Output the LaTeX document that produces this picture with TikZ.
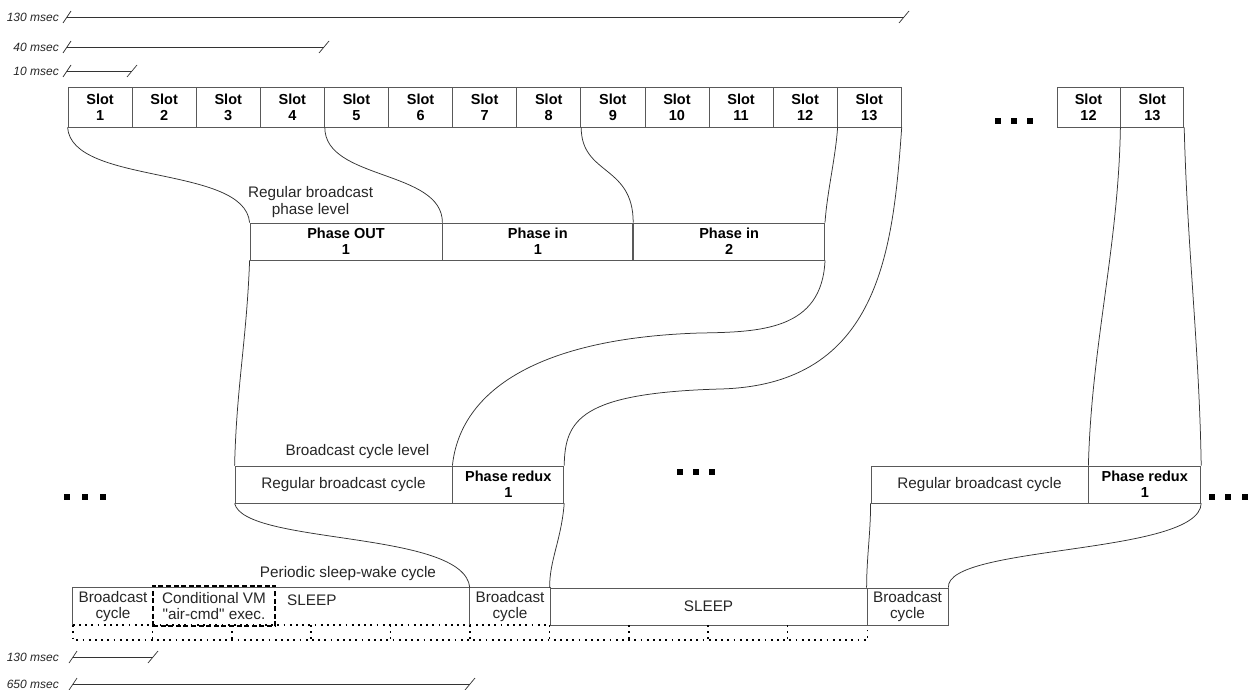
\documentclass[tikz,border=0pt]{standalone}
\usepackage{fontspec}
\setmainfont{Liberation Sans}
\usetikzlibrary{positioning}
\definecolor{edge}{gray}{0.35}

\begin{document}
\begin{tikzpicture}[x=1pt,y=1pt,
  every node/.style={font=\fontsize{15.3}{16.5}\selectfont, inner sep=0pt, align=center, text=black!85},
  slotbox/.style={draw=edge, line width=0.8pt, minimum width=64.1pt, minimum height=40pt, text=black, font=\bfseries\fontsize{14.5}{16}\selectfont},
  phasebox/.style={draw=edge, line width=0.8pt, minimum height=37pt, text=black, font=\bfseries\fontsize{14.5}{16}\selectfont},
  cyclebox/.style={draw=edge, line width=0.8pt, minimum height=37pt},
  plainbox/.style={minimum height=37pt},
  vmbox/.style={draw=black, line width=2.6pt, dash pattern=on 5pt off 2.6pt, minimum width=122pt, minimum height=40pt},
  link/.style={draw=black!80, line width=0.75pt},
  frame/.style={draw=edge, line width=0.8pt},
  scalebar/.style={draw=black!80, line width=0.7pt},
  mslabel/.style={font=\itshape\fontsize{12}{13}\selectfont, anchor=east},
  dotsq/.style={fill=black, minimum size=6.5pt},
  dotline/.style={draw=black, line width=1.7pt, dash pattern=on 1.7pt off 4.5pt},
]
\useasboundingbox (0,0) rectangle (1258,-690);

% scale bars
\foreach \y/\xe/\lab [count=\n] in {17/904/130, 47/324/40, 71/132/10} {
  \node[mslabel] (tm\n) at (59,-\y) {\lab\ msec};
  \draw[scalebar] ([xshift=8pt]tm\n.east) -- (\xe,-\y);
  \draw[scalebar] (63,-\y-6) -- (71,-\y+6);
  \draw[scalebar] (\xe-5,-\y-6) -- (\xe+5,-\y+6);
}
\foreach \y/\xe/\lab [count=\n] in {657/153/130, 684/470/650} {
  \node[mslabel] (bm\n) at (59,-\y) {\lab\ msec};
  \draw[scalebar] ([xshift=14pt]bm\n.east) -- (\xe,-\y);
  \draw[scalebar] (69,-\y-6) -- (77,-\y+6);
  \draw[scalebar] (\xe-5,-\y-6) -- (\xe+5,-\y+6);
}

% slot level
\foreach \i in {1,...,13}
  \node[slotbox] (s\i) at ({68+64.1*(\i-0.5)},-107) {Slot\\\i};
\node[slotbox, minimum width=63pt] (r12) at (1088.5,-107) {Slot\\12};
\node[slotbox, minimum width=63pt, right=0pt of r12] (r13) {Slot\\13};
\foreach \x [count=\n] in {998,1014,1030}
  \node[dotsq] (sd\n) at (\x,-121) {};

% phase level
\node[phasebox, minimum width=192pt] (po) at (346,-241.5) {Phase OUT\\1};
\node[phasebox, minimum width=190pt, right=0pt of po] (pi1) {Phase in\\1};
\node[phasebox, minimum width=191pt, right=0pt of pi1] (pi2) {Phase in\\2};
\node[anchor=south] (plev) at ([xshift=61pt,yshift=5pt]po.north west) {Regular broadcast\\phase level};

% broadcast cycle level
\node[cyclebox, minimum width=217pt] (rbc1) at (343.5,-484.5) {Regular broadcast cycle};
\node[phasebox, minimum width=111pt, right=0pt of rbc1] (pr1) {Phase redux\\1};
\node[anchor=south] (blev) at ([xshift=14pt,yshift=7pt]rbc1.north) {Broadcast cycle level};
\node[cyclebox, minimum width=217pt] (rbc2) at (979.5,-484.5) {Regular broadcast cycle};
\node[phasebox, minimum width=112pt, right=0pt of rbc2] (pr2) {Phase redux\\1};
\foreach \x [count=\n] in {67,85,103}
  \node[dotsq] (ld\n) at (\x,-497) {};
\foreach \x [count=\n] in {680,696,712}
  \node[dotsq] (md\n) at (\x,-472) {};
\foreach \x [count=\n] in {1212,1228,1245}
  \node[dotsq] (rd\n) at (\x,-497) {};

% sleep-wake level
\node[plainbox, minimum width=80pt] (bc1) at (113,-606.5) {Broadcast\\cycle};
\node[vmbox] (cvm) at (214,-606) {Conditional VM\\{\addfontfeature{Ligatures=TeXOff}"air-cmd" exec.}};
\node[anchor=west] (sl1) at (287,-600) {SLEEP};
\node[plainbox, minimum width=80pt] (bc2) at (510,-606.5) {Broadcast\\cycle};
\node[cyclebox, minimum width=317pt] (sl2) at (708.5,-606.5) {SLEEP};
\node[cyclebox, minimum width=81pt] (bc3) at (907.5,-606.5) {Broadcast\\cycle};
\node[anchor=south] (pswc) at (348,-581) {Periodic sleep-wake cycle};
\draw[frame] (bc1.south west) -- (bc1.north west) -- (bc2.north east) -- (bc2.south east);
\draw[frame] (bc2.north west) -- (bc2.south west);
\draw[dotline] (bc1.south west) -- (bc2.south east);
\draw[dotline] (bc1.south west) -- ++(0,-15) -| (sl2.south east);
\foreach \k in {1,...,9}
  \draw[dotline] ({73+79.4*\k},-625) -- ++(0,-15);

% links between levels
\draw[link] (s1.south west) .. controls +(4,-58) and +(-5,58) .. (po.north west);
\draw[link] (s4.south east) .. controls +(0,-53) and +(0,53) .. (po.north east);
\draw[link] (s8.south east) .. controls +(0,-48) and +(0,58) .. (pi1.north east);
\draw[link] (s12.south east) .. controls +(-2,-30) and +(2,30) .. (pi2.north east);
\draw[link] (s13.south east) .. controls (893,-250) and (880,-385) .. (720,-389)
  .. controls (580,-393) and (565,-420) .. (pr1.north east);
\draw[link] (pi2.south east) .. controls +(-3,-70) and +(60,1) .. (700,-333)
  .. controls +(-160,-5) and +(8,76) .. (pr1.north west);
\draw[link] (po.south west) .. controls +(-3,-80) and +(2,80) .. (rbc1.north west);
\draw[link] (rbc1.south west) .. controls +(10,-42) and +(-5,58) .. (bc2.north west);
\draw[link] (pr1.south east) .. controls +(-3,-37) and +(0,28) .. (sl2.north west);
\draw[link] (r12.south east) .. controls +(-2,-120) and +(3,120) .. (pr2.north west);
\draw[link] (r13.south east) .. controls +(3,-120) and +(-2,120) .. (pr2.north east);
\draw[link] (rbc2.south west) .. controls +(0,-30) and +(0,30) .. (bc3.north west);
\draw[link] (pr2.south east) .. controls +(-2,-52) and +(-3,43) .. (bc3.north east);
\end{tikzpicture}
\end{document}
